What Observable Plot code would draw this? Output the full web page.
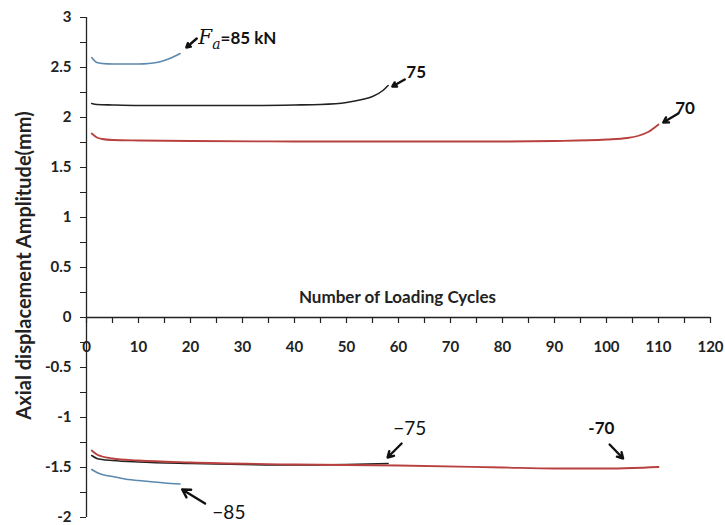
<!DOCTYPE html>
<html><head><meta charset="utf-8">
<script src="https://cdn.jsdelivr.net/npm/d3@7"></script>
<script src="https://cdn.jsdelivr.net/npm/@observablehq/plot@0.6"></script>
<style>
body{margin:0;background:#fff;}
svg text{font-family:Lato,"Open Sans",sans-serif;}
</style>
</head><body>
<div id="chart"></div>
<script>
// Series: cycles and amplitudes (mm)
const c85 = [1,2,3,5,8,10,12,14,16,18];
const v85 = [2.60,2.55,2.54,2.535,2.535,2.535,2.54,2.555,2.59,2.64];
const c75 = [1,2,5,10,20,30,40,45,50,53,55,57,58];
const v75 = [2.14,2.13,2.125,2.12,2.12,2.12,2.125,2.13,2.15,2.18,2.21,2.27,2.32];
const c70 = [1,2,3,5,10,20,40,60,80,90,100,104,106,108,110];
const v70 = [1.84,1.80,1.785,1.775,1.77,1.765,1.76,1.76,1.76,1.765,1.78,1.795,1.815,1.855,1.93];
const cm85 = [1,2,3,5,8,10,12,15,18];
const vm85 = [-1.52,-1.55,-1.57,-1.59,-1.62,-1.63,-1.64,-1.655,-1.665];
const cm75 = [1,2,3,5,10,20,30,40,50,58];
const vm75 = [-1.38,-1.41,-1.42,-1.43,-1.445,-1.46,-1.47,-1.475,-1.47,-1.46];
const cm70 = [1,2,3,5,10,20,40,60,80,90,100,105,110];
const vm70 = [-1.33,-1.37,-1.39,-1.41,-1.43,-1.45,-1.47,-1.48,-1.50,-1.51,-1.51,-1.505,-1.495];

const xTickLabels = [0,10,20,30,40,50,60,70,80,90,100,110,120];
const xMinorTicks = [5,15,25,35,45,55,65,75,85,95,105,115];
const yTicks = [-2,-1.75,-1.5,-1.25,-1,-0.75,-0.5,-0.25,0,0.25,0.5,0.75,1,1.25,1.5,1.75,2,2.25,2.5,2.75,3];

// Annotations (text and arrow positions in data units)
const labelText = ["75","70","-70"];
const labelX = [61.5,113.2,96.5];
const labelY = [2.45,2.09,-1.11];
const serifText = ["\u221275","\u221285"];
const serifX = [59,24.2];
const serifY = [-1.11,-1.95];
const arrowX1 = [21.2,61.2,113.8,60.6,22.8,100.6];
const arrowY1 = [2.79,2.38,2.04,-1.26,-1.86,-1.27];
const arrowX2 = [19.2,58.8,110.9,57.9,18.4,103.2];
const arrowY2 = [2.70,2.31,1.95,-1.40,-1.72,-1.41];

const ser = (c, v, name) => c.map((x, i) => ({x, y: v[i], name}));
const series = [
  ...ser(c85, v85, "85"), ...ser(c75, v75, "75"), ...ser(c70, v70, "70"),
  ...ser(cm85, vm85, "-85"), ...ser(cm75, vm75, "-75"), ...ser(cm70, vm70, "-70")
];
const colorMap = {"85":"#5b88ad","-85":"#5b88ad","75":"#222222","-75":"#222222","70":"#b8403e","-70":"#b8403e"};
const arrows = arrowX1.map((x1,i)=>({x1, y1: arrowY1[i], x2: arrowX2[i], y2: arrowY2[i]}));

const fmt = d => (Math.abs(d*2 - Math.round(d*2)) < 1e-9) ? String(d) : "";

const plot = Plot.plot({
  width: 725, height: 525,
  marginLeft: 86, marginRight: 15, marginTop: 17, marginBottom: 8,
  x: {domain: [0,120], axis: null},
  y: {domain: [-2,3], axis: null},
  style: {fontFamily: "Lato, 'Open Sans', sans-serif", overflow: "visible"},
  marks: [
    Plot.axisY({ticks: yTicks, tickFormat: fmt, tickSize: 6, tickPadding: 9, fontSize: 15, fontWeight: "bold", label: null, stroke: "#222", color: "#222"}),
    Plot.ruleX([0], {y1: -2, y2: 3, stroke: "#222", strokeWidth: 1.3}),
    Plot.ruleY([0], {x1: 0, x2: 120, stroke: "#222", strokeWidth: 1.3}),
    Plot.ruleX(xTickLabels, {x: d => d, y1: 0, y2: -0.06, stroke: "#222", strokeWidth: 1.2}),
    Plot.ruleX(xMinorTicks, {x: d => d, y1: 0, y2: -0.06, stroke: "#222", strokeWidth: 1.2}),
    Plot.text(xTickLabels, {x: d => d, y: 0, dy: 30, text: d => String(d), fontSize: 15, fontWeight: "bold", fill: "#222"}),
    Plot.text(["Number of Loading Cycles"], {x: 59.8, y: 0, dy: -20, text: d => d, fontSize: 17, fontWeight: "bold", fill: "#222"}),
    Plot.text(["Axial displacement Amplitude(mm)"], {x: -12.0, y: 0.52, text: d => d, rotate: -90, fontSize: 20, fontWeight: "bold", fontFamily: "'Open Sans', Lato, sans-serif", fill: "#222", letterSpacing: "0.8px"}),
    Plot.line(series, {x: "x", y: "y", z: "name", stroke: d => colorMap[d.name], strokeWidth: d => d.name.includes("70") ? 1.8 : 1.6, curve: "monotone-x"}),
    Plot.arrow(arrows, {x1: "x1", y1: "y1", x2: "x2", y2: "y2", stroke: "#111", strokeWidth: 2.4, headLength: 7, bend: 0}),
    Plot.text(labelText, {x: (d,i) => labelX[i], y: (d,i) => labelY[i], text: d => d, textAnchor: "start", fontSize: 17, fontWeight: "bold", fill: "#111"}),
    Plot.text(serifText, {x: (d,i) => serifX[i], y: (d,i) => serifY[i], text: d => d, textAnchor: "start", fontSize: 19, fontFamily: "'DejaVu Serif', 'Liberation Serif', serif", fill: "#111"})
  ]
});

// F_a = 85 kN label built as text with tspans, positioned via the plot's scales
const sx = plot.scale("x"), sy = plot.scale("y");
const faX = [21.6], faY = [2.77];
const svg = d3.select(plot);
const t = svg.append("text")
  .attr("x", sx.apply(faX[0])).attr("y", sy.apply(faY[0]))
  .attr("text-anchor", "start")
  .attr("dy", "0.35em").attr("fill", "#111");
t.append("tspan").attr("font-family", "'DejaVu Serif','Liberation Serif',serif").attr("font-style", "italic").attr("font-size", "20px").text("F");
t.append("tspan").attr("font-family", "'DejaVu Serif','Liberation Serif',serif").attr("font-style", "italic").attr("font-size", "14px").attr("dy", 5).text("a");
t.append("tspan").attr("font-family", "Lato, 'Open Sans', sans-serif").attr("font-weight", "bold").attr("font-size", "17px").attr("dy", -5).text("=85 kN");

document.getElementById("chart").appendChild(plot);
</script>
</body></html>
